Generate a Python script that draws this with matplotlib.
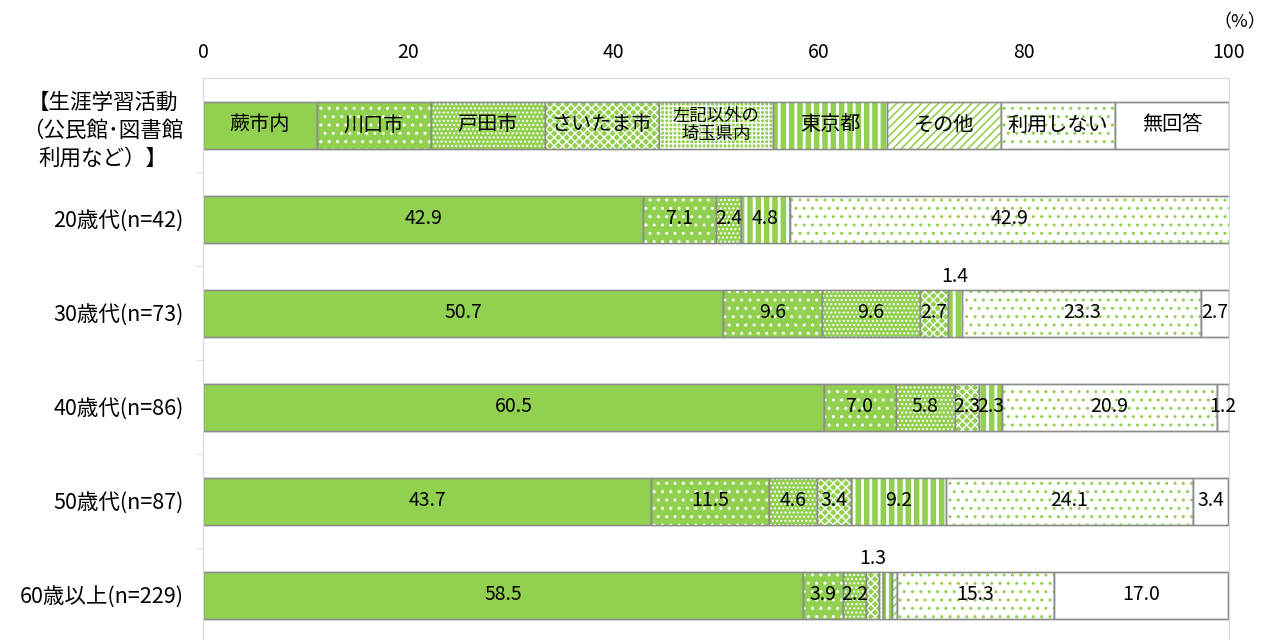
import matplotlib.pyplot as plt
import numpy as np

plt.rcParams['font.family'] = ['Noto Sans CJK JP', 'DejaVu Sans']

places = ["蕨市内", "川口市", "戸田市", "さいたま市", "左記以外の\n埼玉県内",
          "東京都", "その他", "利用しない", "無回答"]
groups = ["20歳代(n=42)", "30歳代(n=73)", "40歳代(n=86)", "50歳代(n=87)", "60歳以上(n=229)"]
header = "【生涯学習活動\n（公民館･図書館\n利用など）】"

warabi = [42.9, 50.7, 60.5, 43.7, 58.5]
kawaguchi = [7.1, 9.6, 7.0, 11.5, 3.9]
toda = [2.4, 9.6, 5.8, 4.6, 2.2]
saitama = [0.0, 2.7, 2.3, 3.4, 1.3]
kennai = [0.0, 0.0, 0.0, 0.0, 0.4]
tokyo = [4.8, 1.4, 2.3, 9.2, 0.9]
sonota = [0.0, 0.0, 0.0, 0.0, 0.4]
riyou_nashi = [42.9, 23.3, 20.9, 24.1, 15.3]
mukaitou = [0.0, 2.7, 1.2, 3.4, 17.0]

series = [warabi, kawaguchi, toda, saitama, kennai, tokyo, sonota, riyou_nashi, mukaitou]

GREEN = "#92D050"
EDGE = "#8C8C8C"
# face, hatch, hatch colour, hatch linewidth
styles = [
    (GREEN, None, None, 1.0),
    (GREEN, "..", "white", 1.0),
    (GREEN, "....", "white", 1.0),
    (GREEN, "xxxx", "white", 1.0),
    (GREEN, "++++", "white", 1.0),
    (GREEN, "||", "white", 2.0),
    ("white", "////", GREEN, 1.2),
    ("white", "..", GREEN, 1.0),
    ("white", None, None, 1.0),
]

# legend row: 9 equal parts, then the data rows
rows = [[100 / len(places)] * len(places)]
for r in range(len(groups)):
    rows.append([s[r] for s in series])
rows = np.array(rows)

fig = plt.figure(figsize=(12.66, 6.4), dpi=100)
ax = fig.add_axes([203 / 1266, -2 / 640, 1026 / 1266, 564 / 640])

bh = 0.5
for r, vals in enumerate(rows):
    left = 0.0
    for i, v in enumerate(vals):
        if v <= 0:
            continue
        face, hatch, hc, hlw = styles[i]
        ax.barh(r, v, left=left, height=bh, color=face, edgecolor=EDGE, linewidth=1)
        if hatch:
            with plt.rc_context({'hatch.linewidth': hlw}):
                ax.barh(r, v, left=left, height=bh, fill=False, edgecolor=hc,
                        linewidth=0, hatch=hatch)
        ax.barh(r, v, left=left, height=bh, fill=False, edgecolor=EDGE, linewidth=1)

        cx = left + v / 2
        if r == 0:
            if "\n" in places[i]:
                ax.text(cx, r, places[i], ha="center", va="center", fontsize=12.5,
                        linespacing=0.95)
            else:
                ax.text(cx, r, places[i], ha="center", va="center", fontsize=14.5)
        elif v >= 1.0:
            if v < 2.0 and i < len(places) - 1:
                ax.text(cx, r - bh / 2 - 0.03, f"{v:.1f}", ha="center", va="bottom",
                        fontsize=14)
            else:
                ax.text(cx, r, f"{v:.1f}", ha="center", va="center", fontsize=14)
        left += v

ax.set_xlim(0, 100)
ax.set_ylim(len(rows) - 0.5, -0.5)
ax.xaxis.tick_top()
ax.set_xticks(range(0, 101, 20))
ax.tick_params(axis="x", length=0, pad=11, labelsize=14)

ax.set_yticks(range(len(rows)))
ax.set_yticklabels([header] + groups, fontsize=15.5)
ax.get_yticklabels()[0].set_multialignment("center")
ax.get_yticklabels()[0].set_linespacing(1.35)
ax.tick_params(axis="y", length=0, pad=14)
ax.set_yticks(np.arange(0.5, len(rows) - 0.5, 1), minor=True)
ax.tick_params(axis="y", which="minor", length=5, color="#D9D9D9")

for sp in ax.spines.values():
    sp.set_color("#D9D9D9")

fig.text(1240 / 1266, 1 - 22 / 640, "（%）", ha="center", va="center", fontsize=13)

fig.savefig("out.png", dpi=100)
